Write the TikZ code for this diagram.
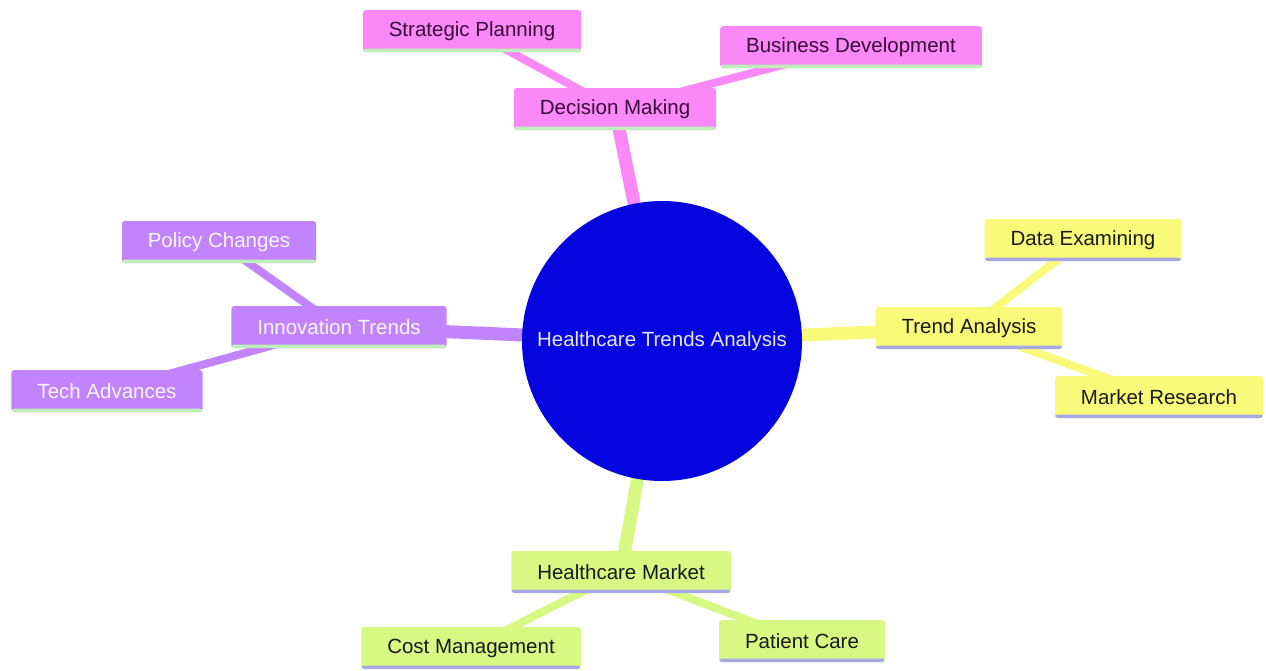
\documentclass[tikz,border=0pt]{standalone}
\usepackage{fontspec}
\setmainfont{Liberation Sans}
\usetikzlibrary{backgrounds}

\definecolor{rootblue}{HTML}{0505E0}
\definecolor{pinkc}{HTML}{FA88F6}
\definecolor{purplec}{HTML}{C184FC}
\definecolor{yellowc}{HTML}{FAFA7A}
\definecolor{greenc}{HTML}{D8F884}
\definecolor{mintline}{HTML}{BDF0B8}
\definecolor{lavline}{HTML}{A8A8E4}
\definecolor{darkpink}{HTML}{3A0A3A}

\begin{document}
\begin{tikzpicture}[x=1pt,y=-1pt,
		leaf/.style={rounded corners=3pt,minimum height=42pt,inner xsep=26pt,inner ysep=0pt,
			font=\fontsize{20.5}{24}\selectfont},
		bottomline/.style={path picture={\fill[#1] ([yshift=3.5pt]path picture bounding box.south west) rectangle (path picture bounding box.south east);}},
		pinkbox/.style={leaf,fill=pinkc,text=darkpink,bottomline=mintline},
		purplebox/.style={leaf,fill=purplec,text=white!92!purplec,bottomline=mintline},
		yellowbox/.style={leaf,fill=yellowc,text=black!90,bottomline=lavline},
		greenbox/.style={leaf,fill=greenc,text=black!90,bottomline=lavline},
		thickedge/.style={line width=13pt,#1},
		thinedge/.style={line width=8pt,#1}]
	\useasboundingbox (0,0) rectangle (1266,670);

	\node[circle,fill=rootblue,minimum size=280pt,inner sep=0pt,text=white!90!blue,font=\fontsize{20.5}{24}\selectfont] (root) at (662,341) {Healthcare Trends Analysis};

	% decision making
	\node[pinkbox] (dm) at (615,109) {Decision Making};
	\node[pinkbox] (sp) at (472,31) {Strategic Planning};
	\node[pinkbox] (bd) at (851,47) {Business Development};

	% innovation trends
	\node[purplebox] (it) at (339,327) {Innovation Trends};
	\node[purplebox] (pc) at (219,242) {Policy Changes};
	\node[purplebox] (ta) at (107,391) {Tech Advances};

	% trend analysis
	\node[yellowbox] (tr) at (969,328) {Trend Analysis};
	\node[yellowbox] (de) at (1083,240) {Data Examining};
	\node[yellowbox] (mr) at (1159,397) {Market Research};

	% healthcare market
	\node[greenbox] (hm) at (621,572) {Healthcare Market};
	\node[greenbox] (cm) at (471,648) {Cost Management};
	\node[greenbox] (pt) at (802,641) {Patient Care};

	\begin{scope}[on background layer]
		\fill[white] (0,0) rectangle (1266,670);
		\draw[thickedge=pinkc] (root.center) -- (dm.center);
		\draw[thickedge=purplec] (root.center) -- (it.center);
		\draw[thickedge=yellowc] (root.center) -- (tr.center);
		\draw[thickedge=greenc] (root.center) -- (hm.center);
		\draw[thinedge=pinkc] (dm.center) -- (sp.center);
		\draw[thinedge=pinkc] (dm.center) -- (bd.center);
		\draw[thinedge=purplec] (it.center) -- (pc.center);
		\draw[thinedge=purplec] (it.center) -- (ta.center);
		\draw[thinedge=yellowc] (tr.center) -- (de.center);
		\draw[thinedge=yellowc] (tr.center) -- (mr.center);
		\draw[thinedge=greenc] (hm.center) -- (cm.center);
		\draw[thinedge=greenc] (hm.center) -- (pt.center);
	\end{scope}
\end{tikzpicture}
\end{document}
